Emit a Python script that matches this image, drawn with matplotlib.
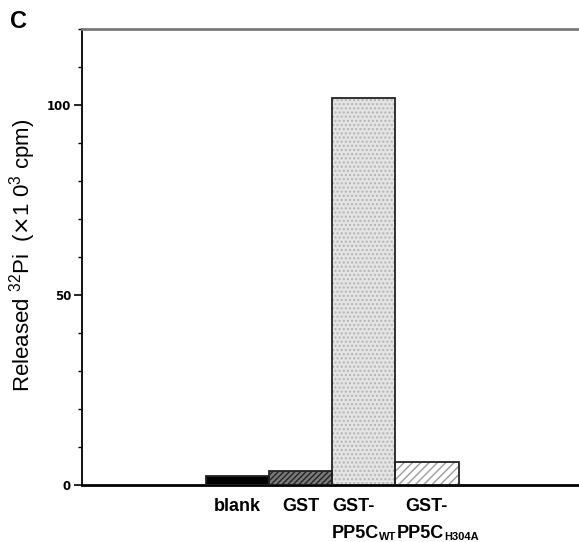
import numpy as np
import matplotlib.pyplot as plt
from matplotlib.ticker import MultipleLocator

# values (x10^3 cpm)
groups = ["blank", "GST", "GST-PP5C WT", "GST-PP5C H304A"]
released = [2.4, 3.7, 102.0, 6.0]

face_cols = ["black", "#7a7a7a", "#e4e4e4", "white"]
hatch_cols = ["black", "#222222", "#b4b4b4", "#9a9a9a"]
hatches = [None, "//////", "....", "////"]

plt.rcParams['font.family'] = ['Liberation Sans', 'DejaVu Sans']

fig = plt.figure(figsize=(5.79, 5.42), dpi=100)
ax = fig.add_axes([0.142, 0.1052, 0.858, 0.8404])

x = np.arange(len(groups))
# hatch layer first, then outline on top
for xi, v, fc, hc, h in zip(x, released, face_cols, hatch_cols, hatches):
    ax.bar(xi, v, width=1.0, color=fc, edgecolor=hc, hatch=h,
           linewidth=0, zorder=2)
ax.bar(x, released, width=1.0, fill=False, edgecolor="#222222",
       linewidth=1.3, zorder=3)

ax.set_xlim(-2.45, 5.4)
ax.set_ylim(0, 120)

ax.spines["right"].set_visible(False)
ax.spines["top"].set_color("#7a7a7a")
ax.spines["top"].set_linewidth(2.0)
ax.spines["bottom"].set_linewidth(2.0)
ax.spines["left"].set_linewidth(1.3)

ax.set_xticks([])
ax.yaxis.set_major_locator(MultipleLocator(50))
ax.yaxis.set_minor_locator(MultipleLocator(10))
ax.tick_params(axis="y", which="major", length=6, width=1.2, direction="out",
               pad=2)
ax.tick_params(axis="y", which="minor", length=3, width=1.0, direction="out")
for lab in ax.get_yticklabels():
    lab.set_fontfamily("DejaVu Sans")
    lab.set_fontweight("bold")
    lab.set_fontsize(8.5)

ax.set_ylabel(r"Released $\mathregular{^{32}}$Pi  ($\times$1 0$\mathregular{^3}$ cpm)",
              fontsize=16, va="center")
ax.yaxis.set_label_coords(-0.121, 0.505)

# category labels under the bars
tr = ax.get_xaxis_transform()
lab_kw = dict(fontsize=13, fontweight="bold", transform=tr, va="center")
ax.text(x[0], -0.048, "blank", ha="center", **lab_kw)
ax.text(x[1], -0.048, "GST", ha="center", **lab_kw)
ax.text(x[2] - 0.5, -0.048, "GST-", ha="left", **lab_kw)
ax.text(x[3] - 0.34, -0.048, "GST-", ha="left", **lab_kw)

sub_kw = dict(fontsize=13, fontweight="bold", transform=tr, va="bottom")
t1 = ax.text(x[2] - 0.5, -0.125, "PP5C", ha="left", **sub_kw)
ax.annotate("WT", xy=(1, 0), xycoords=t1, va="bottom", ha="left",
            fontsize=8, fontweight="bold")
t2 = ax.text(x[3] - 0.48, -0.125, "PP5C", ha="left", **sub_kw)
ax.annotate("H304A", xy=(1, 0), xycoords=t2, va="bottom", ha="left",
            fontsize=8, fontweight="bold")

fig.text(0.017, 0.96, "C", fontsize=17, fontweight="bold", va="center")

fig.savefig("out.png", dpi=100)
